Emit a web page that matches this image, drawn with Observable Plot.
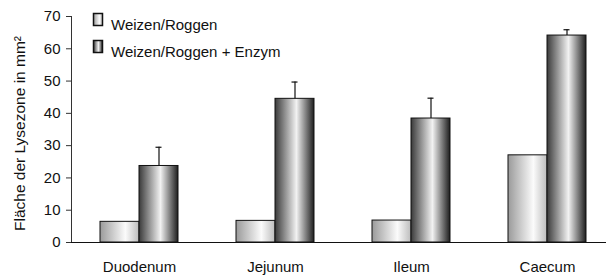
<!DOCTYPE html>
<html><head><meta charset="utf-8">
<script src="https://cdn.jsdelivr.net/npm/d3@7"></script>
<script src="https://cdn.jsdelivr.net/npm/@observablehq/plot@0.6"></script>
<style>
body{margin:0;background:#fff}
</style>
</head><body><div id="chart"></div>
<script>
const categories = ["Duodenum", "Jejunum", "Ileum", "Caecum"];
const seriesNames = ["Weizen/Roggen", "Weizen/Roggen + Enzym"];
const valuesPlain = [6.4, 6.7, 6.8, 27.0];
const valuesEnzym = [23.7, 44.5, 38.4, 64.1];
const errorTopEnzym = [29.5, 49.7, 44.7, 65.9];
const yTicks = [0, 10, 20, 30, 40, 50, 60, 70];
const yLabel = "Fläche der Lysezone in mm²";

const plain = categories.map((c, i) => ({cat: c, v: valuesPlain[i]}));
const enz = categories.map((c, i) => ({cat: c, v: valuesEnzym[i], top: errorTopEnzym[i]}));
const fills = ["url(#gLight)", "url(#gDark)"];

const rectSymbol = {draw(ctx) { ctx.rect(-4.5, -6, 9, 12); }};

const legendMarks = seriesNames.flatMap((s, i) => [
  Plot.dot([s], {frameAnchor: "top-left", dx: 26.5, dy: 3 + 27 * i, symbol: rectSymbol, fill: fills[i], stroke: "#111", r: 5}),
  Plot.text([s], {frameAnchor: "top-left", dx: 39.5, dy: 3 + 27 * i, fontSize: 15, textAnchor: "start", fill: "#111"})
]);

const svg = Plot.plot({
  width: 606,
  height: 275,
  marginLeft: 71,
  marginRight: -9,
  marginTop: 16,
  marginBottom: 33,
  style: {fontFamily: "'Liberation Sans', Arial, sans-serif", background: "#fff"},
  x: {domain: categories, padding: 0},
  y: {domain: [0, 70]},
  marks: [
    Plot.barY(plain, {x: "cat", y: "v", fill: fills[0], stroke: "#111", strokeWidth: 1, insetLeft: 29, insetRight: 68}),
    Plot.barY(enz, {x: "cat", y: "v", fill: fills[1], stroke: "#111", strokeWidth: 1, insetLeft: 68, insetRight: 29}),
    Plot.ruleX(enz, {x: "cat", y1: "v", y2: "top", dx: 19.5, stroke: "#111", strokeWidth: 1.2}),
    Plot.tickY(enz, {x: "cat", y: "top", insetLeft: 84.5, insetRight: 45.5, stroke: "#111", strokeWidth: 1.2}),
    Plot.frame({anchor: "left", stroke: "#333"}),
    Plot.ruleY([0], {stroke: "#111"}),
    Plot.axisY({ticks: yTicks, tickSize: 5, tickPadding: 6, fontSize: 15, label: null, stroke: "#333", fill: "#111"}),
    Plot.axisX({tickSize: 0, tickPadding: 19, fontSize: 15, label: null, fill: "#111"}),
    Plot.text([yLabel], {frameAnchor: "left", rotate: -90, dx: -51, dy: 4, fontSize: 15.5, textAnchor: "middle", fill: "#111"}),
    ...legendMarks
  ]
});

const defs = `<defs>
<linearGradient id="gLight" x1="0" x2="1" y1="0" y2="0">
<stop offset="0" stop-color="#9a9a9a"/><stop offset="0.65" stop-color="#fbfbfb"/><stop offset="1" stop-color="#bcbcbc"/>
</linearGradient>
<linearGradient id="gDark" x1="0" x2="1" y1="0" y2="0">
<stop offset="0" stop-color="#3a3a3a"/><stop offset="0.55" stop-color="#f2f2f2"/><stop offset="1" stop-color="#1e1e1e"/>
</linearGradient></defs>`;
svg.insertAdjacentHTML("afterbegin", defs);
document.getElementById("chart").appendChild(svg);
</script>
</body></html>
